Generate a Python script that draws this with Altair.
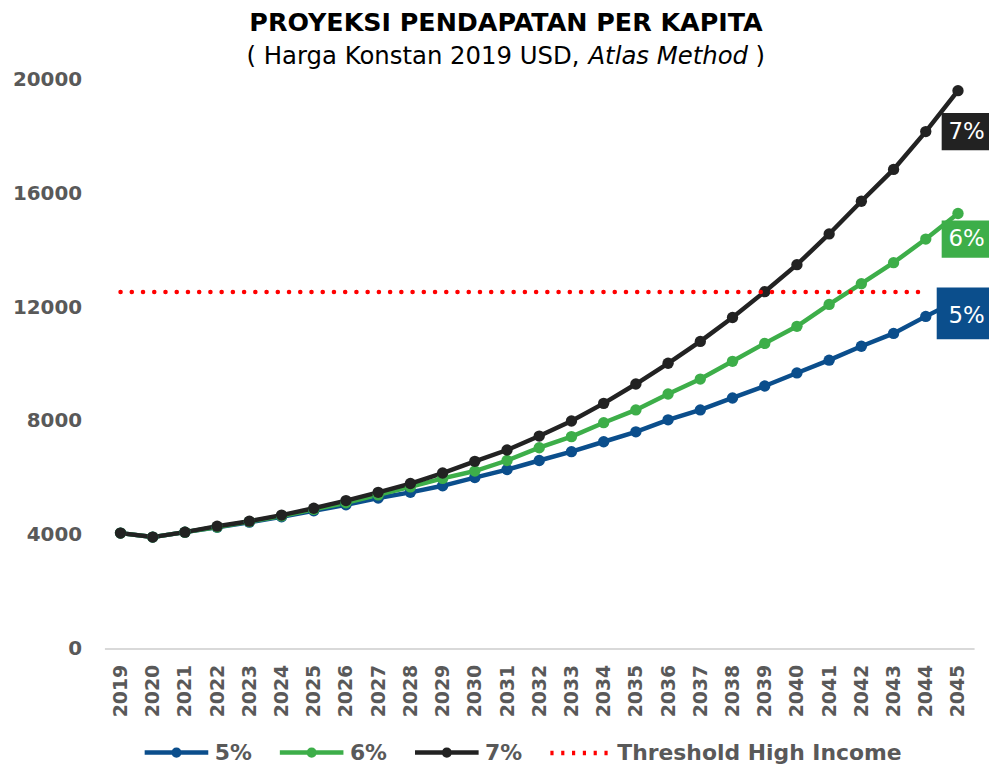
import altair as alt
import pandas as pd

# ---------------- data ----------------
years = [str(y) for y in range(2019, 2046)]
series_names = ["5%", "6%", "7%"]
threshold_name = "Threshold High Income"

v5 = [4056, 3916, 4090, 4260, 4440, 4630, 4840, 5050, 5290, 5490, 5720, 6010, 6290, 6610,
      6920, 7270, 7620, 8040, 8390, 8810, 9230, 9690, 10140, 10630, 11080, 11680, 12250]
v6 = [4056, 3916, 4090, 4270, 4460, 4660, 4890, 5120, 5400, 5680, 5980, 6240, 6610, 7060,
      7450, 7940, 8390, 8950, 9475, 10100, 10730, 11330, 12100, 12830, 13570, 14400, 15300]
v7 = [4056, 3916, 4090, 4300, 4475, 4690, 4930, 5200, 5490, 5800, 6170, 6580, 6980, 7470,
      8000, 8620, 9300, 10030, 10800, 11640, 12550, 13500, 14580, 15730, 16850, 18180, 19620]

threshold_value = 12535
threshold_years = ["2019", "2044"]
label_year = "2044"

y_ticks = [0, 4000, 8000, 12000, 16000, 20000]

title_text = "PROYEKSI PENDAPATAN PER KAPITA"
subtitle_parts = ["( Harga Konstan 2019 USD,", "Atlas Method", ")"]

colors = ["#0B4E8C", "#3DAE49", "#222222", "#FF0000"]
GRAY = "#595959"

# ---------------- tables ----------------
rows = []
for name, vals in zip(series_names, [v5, v6, v7]):
    for yr, v in zip(years, vals):
        rows.append({"series": name, "year": yr, "value": v})
df = pd.DataFrame(rows)

thr_df = pd.DataFrame({"series": [threshold_name] * len(threshold_years),
                       "year": threshold_years,
                       "value": [threshold_value] * len(threshold_years)})

all_df = pd.concat([df, thr_df], ignore_index=True)
lab_df = df[df["year"] == label_year].reset_index(drop=True)

# ---------------- encodings ----------------
x_enc = alt.X("year:O",
              scale=alt.Scale(type="point", padding=0.5, domain=years),
              axis=alt.Axis(title=None, labelAngle=270, labelFont="DejaVu Sans",
                            labelFontSize=19, labelFontWeight="bold", labelColor=GRAY,
                            ticks=False, domainColor="#D9D9D9", domainWidth=2,
                            labelPadding=16, grid=False))
y_enc = alt.Y("value:Q",
              scale=alt.Scale(domain=[0, 20000], nice=False),
              axis=alt.Axis(title=None, values=y_ticks, format="d", grid=False,
                            domain=False, ticks=False, labelPadding=23,
                            labelFont="DejaVu Sans", labelFontSize=20,
                            labelFontWeight="bold", labelColor=GRAY))

line_circle = "M-1,0H1M0.09,0A0.09,0.09 0 1,1 -0.09,0A0.09,0.09 0 1,1 0.09,0Z"
dot_xs = [-0.85, -0.51, -0.17, 0.17, 0.51, 0.85]
dots = "".join(f"M{x - 0.05:.3f},0H{x + 0.05:.3f}" for x in dot_xs)

color_scale = alt.Scale(domain=series_names + [threshold_name], range=colors)
legend = alt.Legend(
    title=None, orient="none", legendX=38, legendY=642, direction="horizontal",
    symbolSize=4096, symbolStrokeWidth=4.5,
    labelFont="DejaVu Sans", labelFontSize=22, labelFontWeight="bold",
    labelColor=GRAY, columnPadding=18, labelOffset=4, labelLimit=500)

color_leg = alt.Color("series:N", scale=color_scale, legend=legend)
shape_leg = alt.Shape("series:N",
                      scale=alt.Scale(domain=series_names + [threshold_name],
                                      range=[line_circle, line_circle, line_circle, dots]),
                      legend=legend)
color_enc = alt.Color("series:N", scale=color_scale, legend=None)

# ---------------- layers ----------------
legend_layer = alt.Chart(all_df).mark_point(filled=False, opacity=0, strokeWidth=4.5).encode(
    x=x_enc, y=y_enc, color=color_leg, shape=shape_leg)

lines = alt.Chart(df).mark_line(strokeWidth=4.5).encode(x=x_enc, y=y_enc, color=color_enc)
points = alt.Chart(df).mark_point(filled=True, size=130, opacity=1).encode(
    x=x_enc, y=y_enc, color=color_enc)

threshold = alt.Chart(thr_df).mark_line(strokeWidth=4.5, strokeDash=[0.1, 11.2],
                                        strokeCap="round").encode(
    x=x_enc, y=y_enc, color=color_enc)

box_small = alt.Chart(lab_df).transform_filter(alt.datum.series != "5%").mark_point(
    shape="M-1,-0.72H1V0.72H-1Z", size=2704, filled=True, opacity=1, xOffset=42).encode(
    x=x_enc, y=y_enc, color=color_enc)
box_big = alt.Chart(lab_df).transform_filter(alt.datum.series == "5%").mark_point(
    shape="M-1,-0.9H1V0.9H-1Z", size=3364, filled=True, opacity=1, xOffset=40,
    yOffset=-3).encode(x=x_enc, y=y_enc, color=color_enc)
box_text = alt.Chart(lab_df).mark_text(color="white", font="DejaVu Sans", fontSize=23,
                                       dx=41, align="center", baseline="middle").encode(
    x=x_enc, y=y_enc, text="series:N")

one = alt.Data(values=[{}])
title_mark = alt.Chart(one).mark_text(text=title_text, font="DejaVu Sans", fontSize=25.5,
                                      fontWeight="bold", color="black", align="center",
                                      baseline="middle").encode(
    x=alt.value(404), y=alt.value(-57))
sub1 = alt.Chart(one).mark_text(text=subtitle_parts[0], font="DejaVu Sans", fontSize=24.5,
                                color="black", align="left", baseline="middle").encode(
    x=alt.value(143), y=alt.value(-23))
sub2 = alt.Chart(one).mark_text(text=subtitle_parts[1], font="DejaVu Sans", fontSize=24.5,
                                fontStyle="italic", color="black", align="left",
                                baseline="middle").encode(
    x=alt.value(487), y=alt.value(-23))
sub3 = alt.Chart(one).mark_text(text=subtitle_parts[2], font="DejaVu Sans", fontSize=24.5,
                                color="black", align="left", baseline="middle").encode(
    x=alt.value(655), y=alt.value(-23))

chart = alt.layer(legend_layer, lines, points, threshold, box_small, box_big, box_text,
                  title_mark, sub1, sub2, sub3).properties(
    width=875, height=572,
    autosize=alt.AutoSizeParams(type="none"),
    padding={"left": 97, "top": 70, "right": 15, "bottom": 117},
    background="white",
).configure_view(stroke=None)

chart.save("out.html", embed_options={"renderer": "svg", "actions": False})
